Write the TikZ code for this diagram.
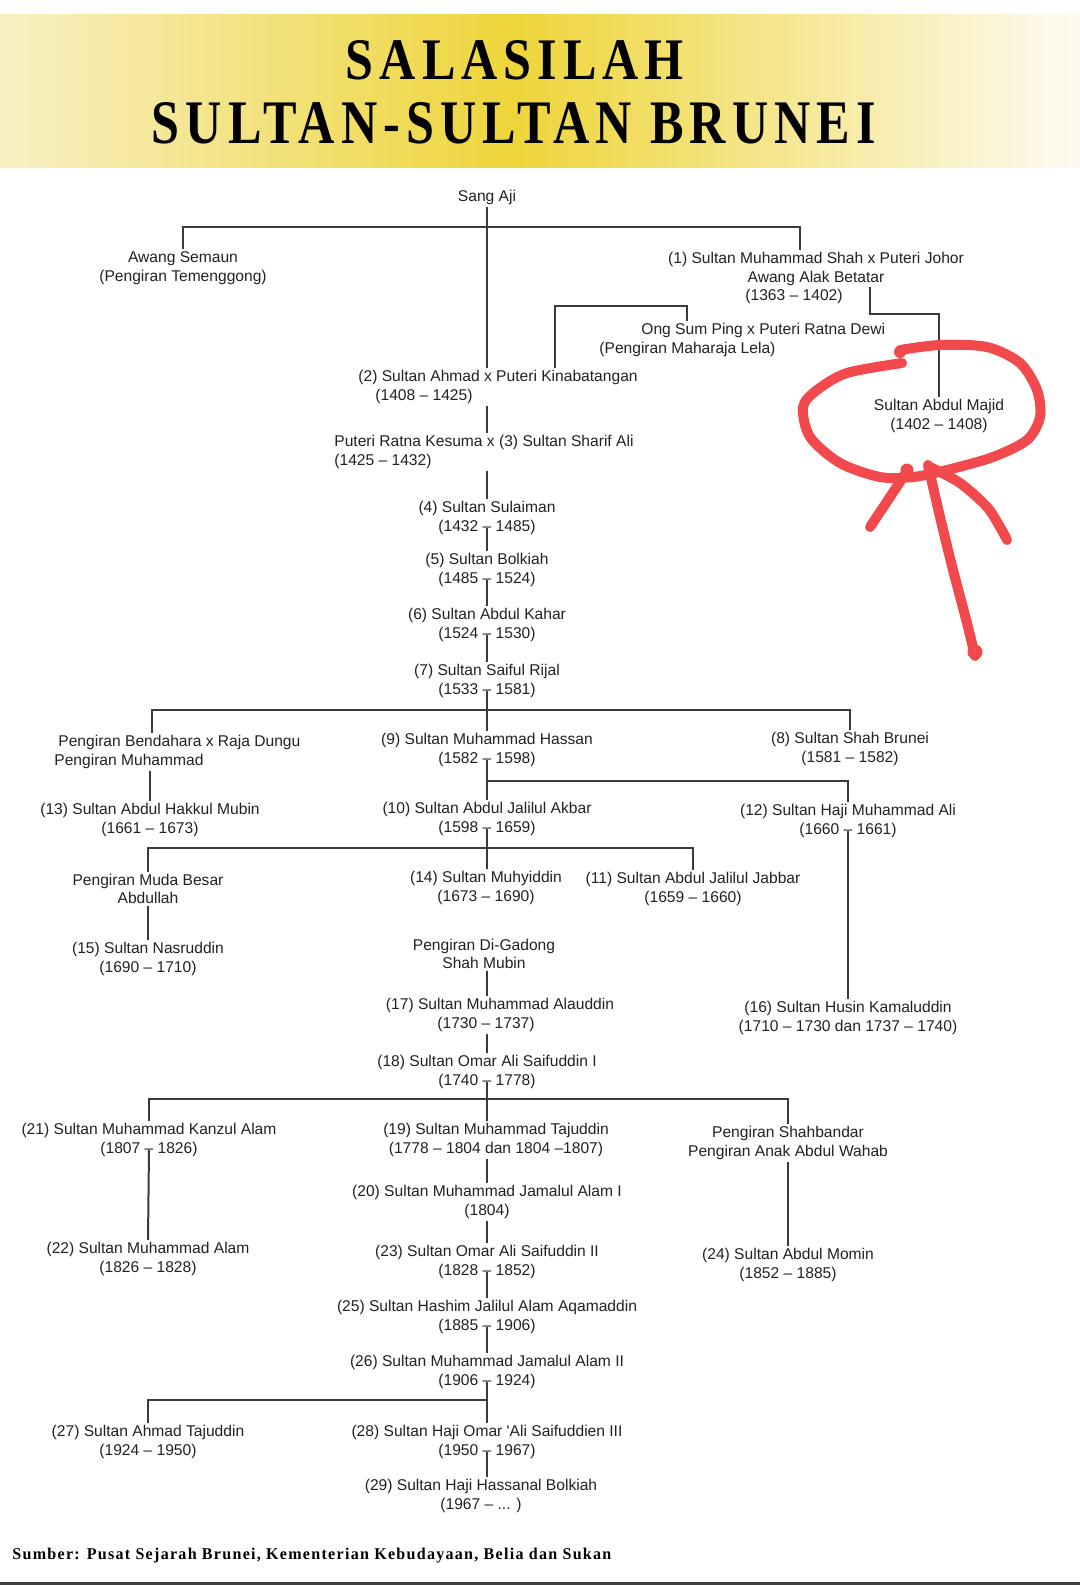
\documentclass[tikz,border=0pt]{standalone}
\usepackage{fontspec}
\usepackage{graphicx}
\setmainfont{Liberation Sans}
\newfontfamily\titlefont[LetterSpace=12]{Liberation Serif}
\newfontfamily\srcfont[LetterSpace=8]{Liberation Serif}
\usetikzlibrary{calc}
\definecolor{ink}{HTML}{222222}
\definecolor{lnk}{HTML}{3A3A3A}
\definecolor{redmark}{HTML}{F24A4C}
\definecolor{bandedgeL}{RGB}{248,240,196}
\definecolor{bandmid}{RGB}{238,213,58}
\definecolor{bandedgeR}{RGB}{253,251,242}
\begin{document}
\begin{tikzpicture}[x=0.5pt,y=-0.5pt,
  person/.style={align=center, inner sep=1pt, yshift=-1pt, text=ink, font=\fontsize{7.8pt}{9.2pt}\selectfont},
  link/.style={draw=lnk, line width=1pt},
  redstroke/.style={draw=redmark, line width=5pt, line cap=round, line join=round}]
% canvas
\fill[white] (0,0) rectangle (1080,1585);
\useasboundingbox (0,0) rectangle (1080,1585);
% title band
\shade[left color=bandedgeL, right color=bandmid] (0,14) rectangle (515,167);
\shade[left color=bandmid, right color=bandedgeR] (515,14) rectangle (1080,167);
\node[inner sep=0, anchor=base] (t1) at (515,79) {\resizebox{169pt}{19.5pt}{\titlefont\bfseries SALASILAH}};
\node[inner sep=0, anchor=base] (t2) at (514,143) {\resizebox{362pt}{20.5pt}{\titlefont\bfseries SULTAN-SULTAN BRUNEI}};
% people
\node[person] (saji) at (487,195) {Sang Aji};
\node[person] (awang) at (183,266) {Awang Semaun\\(Pengiran Temenggong)};
\node[person] (n1) at (816,276) {(1) Sultan Muhammad Shah x Puteri Johor\\Awang Alak Betatar\hspace*{22pt}\\(1363 – 1402)\hspace*{22pt}};
\node[person] (majid) at (939,414) {Sultan Abdul Majid\\(1402 – 1408)};
\node[person, align=left, anchor=west] (ong) at (597,338) {\hspace*{21pt}Ong Sum Ping x Puteri Ratna Dewi\\(Pengiran Maharaja Lela)};
\node[person, align=left, anchor=west] (n2) at (356,385) {(2) Sultan Ahmad x Puteri Kinabatangan\\\hspace*{8.5pt}(1408 – 1425)};
\node[person, align=left, anchor=west] (n3) at (332,450) {Puteri Ratna Kesuma x (3) Sultan Sharif Ali\\(1425 – 1432)};
\node[person] (n4) at (487,516) {(4) Sultan Sulaiman\\(1432 – 1485)};
\node[person] (n5) at (487,568) {(5) Sultan Bolkiah\\(1485 – 1524)};
\node[person] (n6) at (487,623) {(6) Sultan Abdul Kahar\\(1524 – 1530)};
\node[person] (n7) at (487,679) {(7) Sultan Saiful Rijal\\(1533 – 1581)};
\node[person, align=left, anchor=west] (pb) at (52,750) {\hspace*{2pt}Pengiran Bendahara x Raja Dungu\\Pengiran Muhammad};
\node[person] (n9) at (487,748) {(9) Sultan Muhammad Hassan\\(1582 – 1598)};
\node[person] (n8) at (850,747) {(8) Sultan Shah Brunei\\(1581 – 1582)};
\node[person] (n13) at (150,818) {(13) Sultan Abdul Hakkul Mubin\\(1661 – 1673)};
\node[person] (n10) at (487,817) {(10) Sultan Abdul Jalilul Akbar\\(1598 – 1659)};
\node[person] (n12) at (848,819) {(12) Sultan Haji Muhammad Ali\\(1660 – 1661)};
\node[person] (pmb) at (148,887) {Pengiran Muda Besar\\Abdullah};
\node[person] (n14) at (486,886) {(14) Sultan Muhyiddin\\(1673 – 1690)};
\node[person] (n11) at (693,887) {(11) Sultan Abdul Jalilul Jabbar\\(1659 – 1660)};
\node[person] (n15) at (148,957) {(15) Sultan Nasruddin\\(1690 – 1710)};
\node[person] (pdg) at (484,952) {Pengiran Di-Gadong\\Shah Mubin};
\node[person] (n17) at (500,1013) {(17) Sultan Muhammad Alauddin\\(1730 – 1737)\hspace*{14pt}};
\node[person] (n16) at (848,1016) {(16) Sultan Husin Kamaluddin\\(1710 – 1730 dan 1737 – 1740)};
\node[person] (n18) at (487,1070) {(18) Sultan Omar Ali Saifuddin I\\(1740 – 1778)};
\node[person] (n21) at (149,1138) {(21) Sultan Muhammad Kanzul Alam\\(1807 – 1826)};
\node[person] (n19) at (496,1138) {(19) Sultan Muhammad Tajuddin\\(1778 – 1804 dan 1804 –1807)};
\node[person] (ps) at (788,1141) {Pengiran Shahbandar\\Pengiran Anak Abdul Wahab};
\node[person] (n20) at (487,1200) {(20) Sultan Muhammad Jamalul Alam I\\(1804)};
\node[person] (n22) at (148,1257) {(22) Sultan Muhammad Alam\\(1826 – 1828)};
\node[person] (n23) at (487,1260) {(23) Sultan Omar Ali Saifuddin II\\(1828 – 1852)};
\node[person] (n24) at (788,1263) {(24) Sultan Abdul Momin\\(1852 – 1885)};
\node[person] (n25) at (487,1315) {(25) Sultan Hashim Jalilul Alam Aqamaddin\\(1885 – 1906)};
\node[person] (n26) at (487,1370) {(26) Sultan Muhammad Jamalul Alam II\\(1906 – 1924)};
\node[person] (n27) at (148,1440) {(27) Sultan Ahmad Tajuddin\\(1924 – 1950)};
\node[person] (n28) at (487,1440) {(28) Sultan Haji Omar \textquotesingle Ali Saifuddien III\\(1950 – 1967)};
\node[person] (n29) at (481,1494) {(29) Sultan Haji Hassanal Bolkiah\\(1967 – ... )};
% connectors
\coordinate (j0) at (487,227);
\draw[link] (saji.south) -- (saji.south |- n2.north);
\draw[link] (awang.north) |- (j0) -| ($(n1.north)+(-16,0)$);
\coordinate (k1) at (870,287);
\draw[link] (k1) -- ++(0,27) -| (majid.north);
\draw[link] (555,0 |- n2.north) |- (687,306) -- (687,0 |- ong.north);
\draw[link] (487,0 |- n2.south) -- (487,0 |- n3.north);
\draw[link] (487,0 |- n3.south) -- (n4.north);
\draw[link] ($(n4.south)+(0,-9)$) -- (n5.north);
\draw[link] ($(n5.south)+(0,-9)$) -- (n6.north);
\draw[link] ($(n6.south)+(0,-9)$) -- (n7.north);
\draw[link] ($(n7.south)+(0,-9)$) -- (n9.north);
\draw[link] (152,0 |- pb.north) |- (n8.north |- 0,710) -- (n8.north);
\draw[link] (n13.north |- pb.south) -- (n13.north);
\draw[link] ($(n9.south)+(0,-9)$) -- (n10.north);
\draw[link] (n10.north |- 0,781) -| (n12.north);
\draw[link] ($(n12.south)+(0,-9)$) -- (n16.north);
\draw[link] ($(n10.south)+(0,-9)$) -- (n10.south |- n14.north);
\draw[link] (pmb.north) |- (n11.north |- 0,848) -- (n11.north);
\draw[link] (pmb.south) -- (n15.north);
\draw[link] (487,0 |- pdg.south) -- (487,0 |- n17.north);
\draw[link] (487,0 |- n17.south) -- (n18.north);
\draw[link] ($(n18.south)+(0,-9)$) -- (n18.south |- n19.north);
\draw[link] (n21.north) |- (ps.north |- 0,1099) -- (ps.north);
\draw[link] ($(n21.south)+(0,-9)$) -- (n22.north);
\draw[link] (ps.south) -- (n24.north);
\draw[link] (487,0 |- n19.south) -- (n20.north);
\draw[link] (n20.south) -- (n23.north);
\draw[link] ($(n23.south)+(0,-9)$) -- (n25.north);
\draw[link] ($(n25.south)+(0,-9)$) -- (n26.north);
\draw[link] ($(n26.south)+(0,-9)$) -- (n28.north);
\draw[link] (n27.north) |- (n28.north |- 0,1400);
\draw[link] ($(n28.south)+(0,-9)$) -- (n28.south |- n29.north);
% source and bottom rule
\node[inner sep=0, anchor=base west] (src) at (12,1559) {\resizebox{299.5pt}{5.7pt}{\srcfont\bfseries Sumber: Pusat Sejarah Brunei, Kementerian Kebudayaan, Belia dan Sukan}};
\fill[black!75] (0,1582) rectangle (1080,1585);
% red hand-drawn mark
\draw[redstroke] plot[smooth] coordinates {(900,350) (940,345) (987,347) (1020,363) (1037,390) (1040,417) (1027,440) (993,457) (947,470) (913,477) (880,477) (840,463) (810,437) (803,407) (817,390) (847,373) (902,363)};
\draw[redstroke] plot[smooth] coordinates {(975,656) (967,623) (953,570) (940,517) (928,465)};
\draw[redstroke] plot[smooth] coordinates {(870,527) (890,497) (907,471)};
\draw[redstroke] plot[smooth] coordinates {(930,467) (960,483) (987,507) (1000,527) (1007,540)};
\fill[redmark] (975,652) circle (7.5);
\fill[redmark] (907,470) circle (6.5);
\fill[redmark] (900,352) circle (6);
\end{tikzpicture}
\end{document}
